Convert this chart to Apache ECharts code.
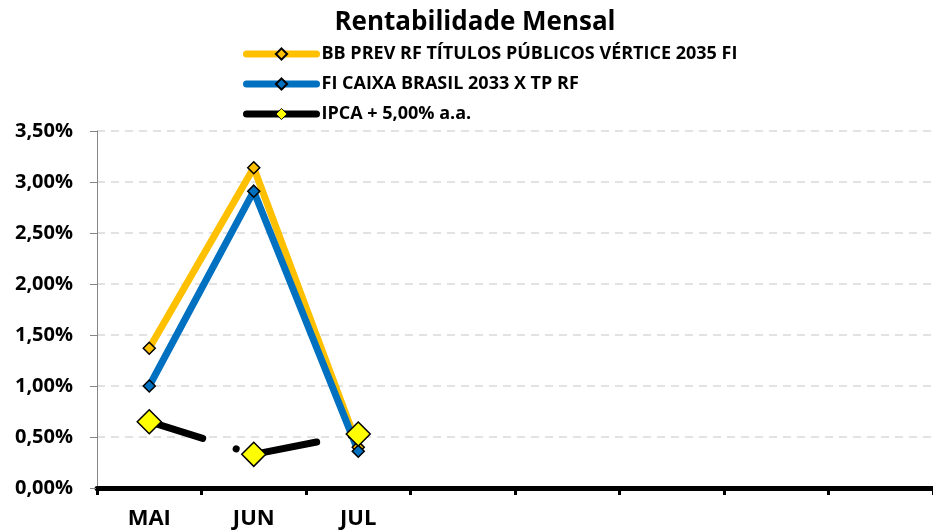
<!DOCTYPE html>
<html lang="pt">
<head>
    <meta charset="UTF-8">
    <title>Rentabilidade Mensal</title>
    <script src="https://cdn.jsdelivr.net/npm/echarts@6/dist/echarts.min.js"></script>
    <style>
        html, body { margin: 0; padding: 0; background: #fff; }
    </style>
</head>
<body>
    <div id="main" style="width: 933px;height:531px;"></div>

    <script>
        // meses (só os três primeiros têm dados)
        const meses = ["MAI", "JUN", "JUL", "", "", "", "", ""]
        const bbPrev = [1.37, 3.14, 0.40]
        const caixa = [1.00, 2.91, 0.36]
        const ipca = [0.65, 0.33, 0.53]
        const yTicks = [0, 0.5, 1, 1.5, 2, 2.5, 3, 3.5]

        const fonte = "Open Sans"
        const pct = (v) => v.toFixed(2).replace(".", ",") + "%"

        const mychart = echarts.init(document.getElementById("main"))
        const option = {
            animation: false,
            textStyle: { fontFamily: fonte },
            title: {
                text: "Rentabilidade Mensal",
                left: 470,
                textAlign: "center",
                top: 5,
                textStyle: { fontSize: 26, fontWeight: "bold", color: "#000", fontFamily: fonte }
            },
            legend: {
                orient: "vertical",
                left: 238,
                top: 40,
                itemWidth: 70,
                itemHeight: 14,
                itemGap: 12,
                textStyle: { fontSize: 18, fontWeight: "bold", color: "#000", fontFamily: fonte },
                data: [
                    { name: "BB PREV RF TÍTULOS PÚBLICOS VÉRTICE 2035 FI", lineStyle: { width: 7, cap: "round" } },
                    { name: "FI CAIXA BRASIL 2033 X TP RF", lineStyle: { width: 7, cap: "round" } },
                    { name: "IPCA + 5,00% a.a.", lineStyle: { type: "solid", width: 7, cap: "round" }, itemStyle: { borderWidth: 1 } }
                ]
            },
            grid: {
                left: 97,
                right: -4,
                top: 131,
                bottom: 43,
                containLabel: false
            },
            xAxis: {
                type: "category",
                data: meses,
                boundaryGap: true,
                axisLine: { lineStyle: { color: "#000", width: 5 } },
                axisTick: { show: true, length: 7, lineStyle: { color: "#000", width: 3 } },
                axisLabel: { fontSize: 22, fontWeight: "bold", color: "#000", margin: 20, fontFamily: fonte },
                splitLine: { show: false }
            },
            yAxis: {
                type: "value",
                min: yTicks[0],
                max: yTicks[yTicks.length - 1],
                interval: 0.5,
                axisLine: { show: true, lineStyle: { color: "#868686", width: 1 } },
                axisTick: { show: true, length: 7, lineStyle: { color: "#868686" } },
                axisLabel: {
                    formatter: pct,
                    fontSize: 20,
                    fontWeight: "bold",
                    color: "#000",
                    margin: 24,
                    fontFamily: fonte
                },
                splitLine: { lineStyle: { color: "#d9d9d9", type: [8, 6], width: 1.5 } }
            },
            series: [
                {
                    name: "BB PREV RF TÍTULOS PÚBLICOS VÉRTICE 2035 FI",
                    type: "line",
                    data: bbPrev,
                    symbol: "diamond",
                    symbolSize: 12,
                    lineStyle: { color: "#ffc000", width: 7 },
                    itemStyle: { color: "#ffc000", borderColor: "#000", borderWidth: 1.5 }
                },
                {
                    name: "FI CAIXA BRASIL 2033 X TP RF",
                    type: "line",
                    data: caixa,
                    symbol: "diamond",
                    symbolSize: 12,
                    lineStyle: { color: "#0070c0", width: 7 },
                    itemStyle: { color: "#0070c0", borderColor: "#000", borderWidth: 1.5 }
                },
                {
                    name: "IPCA + 5,00% a.a.",
                    type: "line",
                    data: ipca,
                    symbol: "diamond",
                    symbolSize: 24,
                    // traço longo-ponto como no Excel
                    lineStyle: { color: "#000", width: 7, type: [69.5, 35, 0.1, 13], dashOffset: 13.5, cap: "round" },
                    itemStyle: { color: "#ffff00", borderColor: "#000", borderWidth: 1.5 }
                }
            ]
        }
        mychart.setOption(option)
    </script>
</body>
</html>
